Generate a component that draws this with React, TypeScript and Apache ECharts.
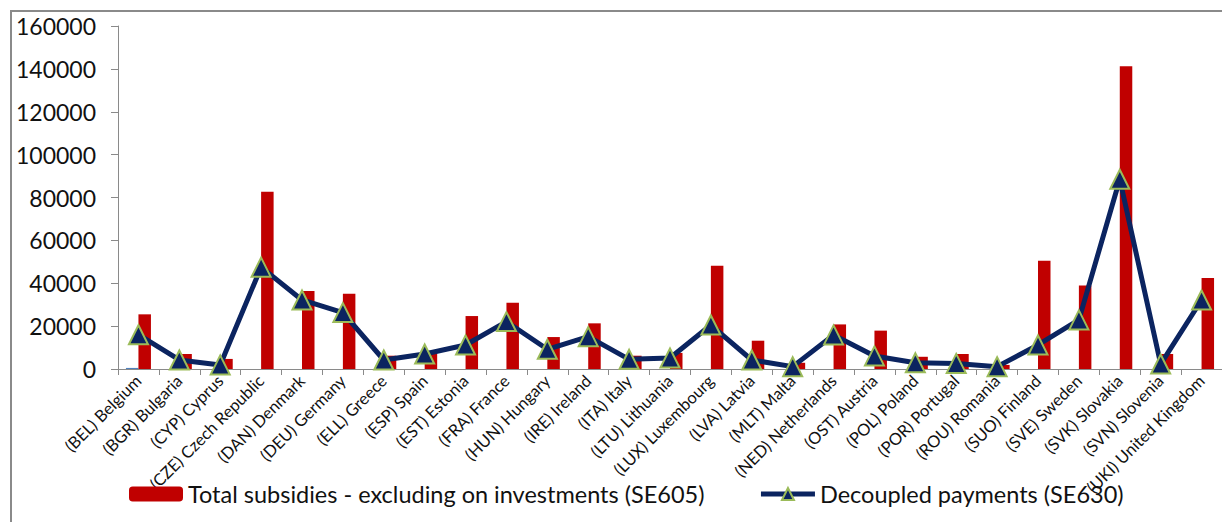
import React, { useEffect, useRef } from "react";
import * as echarts from "echarts";

const categories = [
  "(BEL) Belgium", "(BGR) Bulgaria", "(CYP) Cyprus", "(CZE) Czech Republic", "(DAN) Denmark",
  "(DEU) Germany", "(ELL) Greece", "(ESP) Spain", "(EST) Estonia", "(FRA) France",
  "(HUN) Hungary", "(IRE) Ireland", "(ITA) Italy", "(LTU) Lithuania", "(LUX) Luxembourg",
  "(LVA) Latvia", "(MLT) Malta", "(NED) Netherlands", "(OST) Austria", "(POL) Poland",
  "(POR) Portugal", "(ROU) Romania", "(SUO) Finland", "(SVE) Sweden", "(SVK) Slovakia",
  "(SVN) Slovenia", "(UKI) United Kingdom",
];

const otherValues = [500, 0, 0, 0, 0, 0, 0, 0, 0, 0, 0, 0, 0, 0, 0, 0, 0, 0, 0, 0, 0, 0, 0, 0, 0, 0, 0];

const totalSubsidies = [
  25500, 7000, 4700, 82700, 36400, 35100, 6200, 8000, 24700, 30900,
  14900, 21300, 6200, 7500, 48200, 13200, 2900, 20800, 17900, 5700,
  7000, 1900, 50500, 39000, 141200, 7000, 42400,
];

const decoupledPayments = [
  16000, 4200, 1900, 47500, 32200, 26300, 4200, 7000, 11200, 22100,
  9200, 15100, 4500, 5100, 20500, 4200, 1100, 15900, 6100, 2900,
  2600, 1100, 11200, 22900, 88500, 2300, 32200,
];

const seriesNames = [
  "Total subsidies - excluding on investments (SE605)",
  "Decoupled payments (SE630)",
];

export default function App() {
  const ref = useRef<HTMLDivElement>(null);
  useEffect(() => {
    if (!ref.current) return;
    const chart = echarts.init(ref.current, null, { renderer: "svg" });
    const font = "Lato, 'Open Sans', sans-serif";
    chart.setOption({
      animation: false,
      backgroundColor: "#ffffff",
      textStyle: { fontFamily: font },
      graphic: [
        {
          type: "rect",
          shape: { x: 11, y: 11, width: 1400, height: 700 },
          style: { fill: "none", stroke: "#8a8a8a", lineWidth: 2 },
          silent: true,
          z: 100,
        },
      ],
      grid: { left: 118, right: -6, top: 26, bottom: 153, containLabel: false },
      legend: {
        data: seriesNames,
        left: 124,
        top: 477,
        itemWidth: 54,
        itemHeight: 15,
        itemGap: 54,
        lineStyle: { width: 5 },
        textStyle: { fontFamily: font, fontSize: 23.5, color: "#111111" },
      },
      xAxis: {
        type: "category",
        data: categories,
        boundaryGap: true,
        axisLine: { show: true, lineStyle: { color: "#8a8a8a", width: 1 } },
        axisTick: { show: true, length: 6, lineStyle: { color: "#8a8a8a" } },
        axisLabel: {
          interval: 0,
          rotate: 45,
          margin: 9,
          fontFamily: font,
          fontSize: 16.5,
          color: "#111111",
        },
      },
      yAxis: {
        type: "value",
        min: 0,
        max: 160000,
        interval: 20000,
        axisLine: { show: true, lineStyle: { color: "#8a8a8a", width: 1 } },
        axisTick: { show: true, length: 7, lineStyle: { color: "#8a8a8a" } },
        splitLine: { show: false },
        axisLabel: {
          margin: 22,
          fontFamily: font,
          fontSize: 23,
          color: "#111111",
          formatter: (v: number) => String(v),
        },
      },
      series: [
        {
          name: "",
          type: "bar",
          data: otherValues,
          barWidth: 12.5,
          barGap: "0%",
          itemStyle: { color: "#4F81BD" },
        },
        {
          name: seriesNames[0],
          type: "bar",
          data: totalSubsidies,
          barWidth: 12.5,
          barGap: "0%",
          itemStyle: { color: "#C00000" },
        },
        {
          name: seriesNames[1],
          type: "line",
          data: decoupledPayments,
          symbol: "triangle",
          symbolSize: 19,
          lineStyle: { color: "#0B2460", width: 5 },
          itemStyle: { color: "#0B2460", borderColor: "#9BBB59", borderWidth: 2 },
          z: 5,
        },
      ],
    });
    return () => chart.dispose();
  }, []);
  return (
    <div
      ref={ref}
      style={{ position: "fixed", left: 0, top: 0, width: 1222, height: 522 }}
    />
  );
}
